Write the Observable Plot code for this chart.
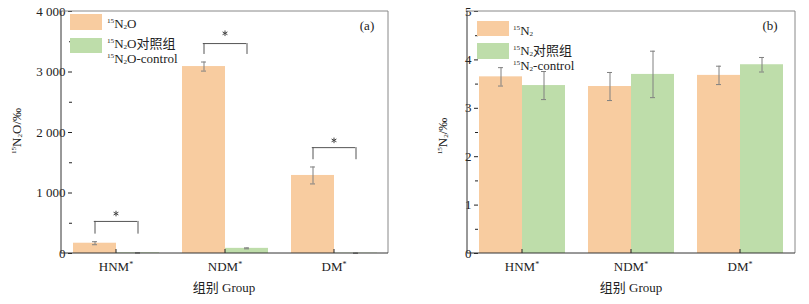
<!DOCTYPE html>
<html><head><meta charset="utf-8">
<script src="https://cdn.jsdelivr.net/npm/d3@7"></script>
<script src="https://cdn.jsdelivr.net/npm/@observablehq/plot@0.6"></script>
<style>
body{margin:0;background:#fff;}
#wrap{position:relative;width:809px;height:304px;font-family:"Liberation Serif","Times New Roman","DejaVu Serif",serif,"Noto Sans CJK SC";color:#222;overflow:hidden;}
#wrap svg{position:absolute;top:0;}
.lbl{position:absolute;font-size:13px;white-space:nowrap;line-height:1;transform:translate(0,-50%);}
.ctr{transform:translate(-50%,-50%);}
.rot{transform:translate(-50%,-50%) rotate(-90deg);}
.sw{position:absolute;}
sup{font-size:0.55em;vertical-align:0.7em;line-height:0;}
sub{font-size:0.55em;vertical-align:-0.25em;line-height:0;}
</style></head>
<body><div id="wrap"></div>
<script>
// ---------- data ----------
const groups = ["HNM", "NDM", "DM"];
const seriesA = ["15N2O", "15N2O-control"];
const seriesB = ["15N2", "15N2-control"];
const n2oValues = [170, 3090, 1290];
const n2oErrors = [25, 75, 140];
const n2oCtrlValues = [10, 85, 5];
const n2oCtrlErrors = [4, 8, 3];
const n2Values = [3.65, 3.45, 3.68];
const n2Errors = [0.19, 0.29, 0.19];
const n2CtrlValues = [3.47, 3.70, 3.90];
const n2CtrlErrors = [0.29, 0.48, 0.15];
const bracketTop = [530, 3470, 1750];
const bracketLeg = [320, 3290, 1550];
const starLevel = [660, 3640, 1870];
const yTicksA = [0, 1000, 2000, 3000, 4000];
const yMinorA = [500, 1500, 2500, 3500];
const yTicksB = [0, 1, 2, 3, 4, 5];
const yMinorB = [0.5, 1.5, 2.5, 3.5, 4.5];

const ORANGE = "#F8CCA0", GREEN = "#BEDDAA", ERR = "#808080";
const FONT = '"Liberation Serif","Times New Roman","DejaVu Serif",serif,"Noto Sans CJK SC"';

function rows(series, vals, errs, cvals, cerrs) {
  const out = [];
  groups.forEach((g, i) => {
    out.push({group: g, series: series[0], value: vals[i], err: errs[i]});
    out.push({group: g, series: series[1], value: cvals[i], err: cerrs[i]});
  });
  return out;
}
const dataA = rows(seriesA, n2oValues, n2oErrors, n2oCtrlValues, n2oCtrlErrors);
const dataB = rows(seriesB, n2Values, n2Errors, n2CtrlValues, n2CtrlErrors);
const bracketsA = groups.map((g, i) => ({group: g, top: bracketTop[i], leg: bracketLeg[i], star: starLevel[i]}));
const legsA = bracketsA.flatMap(b => seriesA.map(s => ({...b, series: s})));

const H = 304, MT = 11, MB = 51;

function panel({data, series, yDomain, ticks, minor, fmt, width, marginLeft, marginRight, brackets, legs}) {
  const plotH = H - MT - MB;
  const marks = [
    Plot.barY(data, {fx: "group", x: "series", y: "value", fill: "series"}),
    Plot.ruleX(data, {fx: "group", x: "series", y1: d => d.value - d.err, y2: d => d.value + d.err, stroke: ERR, strokeWidth: 1}),
    Plot.tickY(data, {fx: "group", x: "series", y: d => d.value + d.err, stroke: ERR, insetLeft: 19, insetRight: 19}),
    Plot.tickY(data, {fx: "group", x: "series", y: d => d.value - d.err, stroke: ERR, insetLeft: 19, insetRight: 19}),
    Plot.axisY({ticks, tickSize: 4, tickPadding: 3, tickFormat: fmt, fontSize: 13, stroke: "#222"}),
    Plot.axisY({ticks: minor, tickSize: 3, tickFormat: () => "", stroke: "#222"}),
    Plot.axisFx({anchor: "bottom", tickSize: 0, tickPadding: 8, label: null, fontSize: 13}),
    Plot.ruleX(groups, {fx: d => d, x: null, insetTop: plotH - 4, stroke: "#222"})
  ];
  if (brackets) {
    marks.push(
      Plot.ruleY(brackets, {fx: "group", y: "top", insetLeft: 21.8, insetRight: 21.8, stroke: "#555"}),
      Plot.ruleX(legs, {fx: "group", x: "series", y1: "leg", y2: "top", stroke: "#555"}),
      Plot.dot(brackets, {fx: "group", y: "star", symbol: "asterisk", r: 2.6, stroke: "#444", strokeWidth: 1})
    );
  }
  const svg = Plot.plot({
    width, height: H, marginTop: MT, marginBottom: MB, marginLeft, marginRight,
    style: {fontFamily: FONT, fontSize: "13px", color: "#222", background: "transparent"},
    fx: {domain: groups, paddingInner: 0.2, paddingOuter: 0.1, label: null},
    x: {domain: series, padding: 0, axis: null},
    y: {domain: yDomain, label: null},
    color: {domain: series, range: [ORANGE, GREEN]},
    marks
  });
  // superscript asterisk on group labels
  d3.select(svg).selectAll('[aria-label="fx-axis tick label"] text').each(function () {
    d3.select(this).append("tspan").attr("dy", "-0.5em").attr("font-size", "8px").text("*");
  });
  // frame around the whole plotting area
  const y = svg.scale("y");
  const y0 = y.apply(yDomain[0]), y1 = y.apply(yDomain[1]);
  const x0 = marginLeft, x1 = width - marginRight;
  const g = d3.select(svg).append("g").attr("fill", "none");
  g.append("line").attr("x1", x0).attr("x2", x1).attr("y1", y1).attr("y2", y1).attr("stroke", "#888");
  g.append("line").attr("x1", x1).attr("x2", x1).attr("y1", y1).attr("y2", y0).attr("stroke", "#888");
  g.append("line").attr("x1", x0).attr("x2", x0).attr("y1", y1).attr("y2", y0).attr("stroke", "#333");
  g.append("line").attr("x1", x0).attr("x2", x1).attr("y1", y0).attr("y2", y0).attr("stroke", "#333");
  return svg;
}

const wrap = document.getElementById("wrap");
const fmtA = d => d >= 1000 ? `${Math.floor(d / 1000)} ${String(d % 1000).padStart(3, "0")}` : String(d);
const left = panel({data: dataA, series: seriesA, yDomain: [0, 4000], ticks: yTicksA, minor: yMinorA, fmt: fmtA,
  width: 404, marginLeft: 61, marginRight: 16, brackets: bracketsA, legs: legsA});
left.style.left = "0px";
wrap.appendChild(left);
const right = panel({data: dataB, series: seriesB, yDomain: [0, 5], ticks: yTicksB, minor: yMinorB, fmt: d => String(d),
  width: 405, marginLeft: 63, marginRight: 14});
right.style.left = "404px";
wrap.appendChild(right);

function add(html, cls, x, y) {
  const d = document.createElement("div");
  d.className = "lbl " + cls;
  d.style.left = x + "px"; d.style.top = y + "px";
  d.innerHTML = html;
  wrap.appendChild(d);
}
function swatch(color, x, y, w, h) {
  const d = document.createElement("div");
  d.className = "sw";
  d.style.cssText = `left:${x}px;top:${y}px;width:${w}px;height:${h}px;background:${color};`;
  wrap.appendChild(d);
}
// legends
swatch(ORANGE, 70, 14, 32, 16);
swatch(GREEN, 70, 38, 32, 15);
add("<sup>15</sup>N<sub>2</sub>O", "", 107, 23);
add("<sup>15</sup>N<sub>2</sub>O对照组", "", 107, 43);
add("<sup>15</sup>N<sub>2</sub>O-control", "", 107, 58);
swatch(ORANGE, 477, 21, 32, 15);
swatch(GREEN, 477, 43, 32, 16);
add("<sup>15</sup>N<sub>2</sub>", "", 513, 30);
add("<sup>15</sup>N<sub>2</sub>对照组", "", 513, 50);
add("<sup>15</sup>N<sub>2</sub>-control", "", 513, 65);
// panel tags
add("(a)", "ctr", 367, 25);
add("(b)", "ctr", 770, 25);
// axis titles
add("<sup>15</sup>N<sub>2</sub>O/‰", "rot", 16, 131);
add("<sup>15</sup>N<sub>2</sub>/‰", "rot", 442, 136);
add("组别 Group", "ctr", 224, 287);
add("组别 Group", "ctr", 631, 287);
</script>
</body></html>
